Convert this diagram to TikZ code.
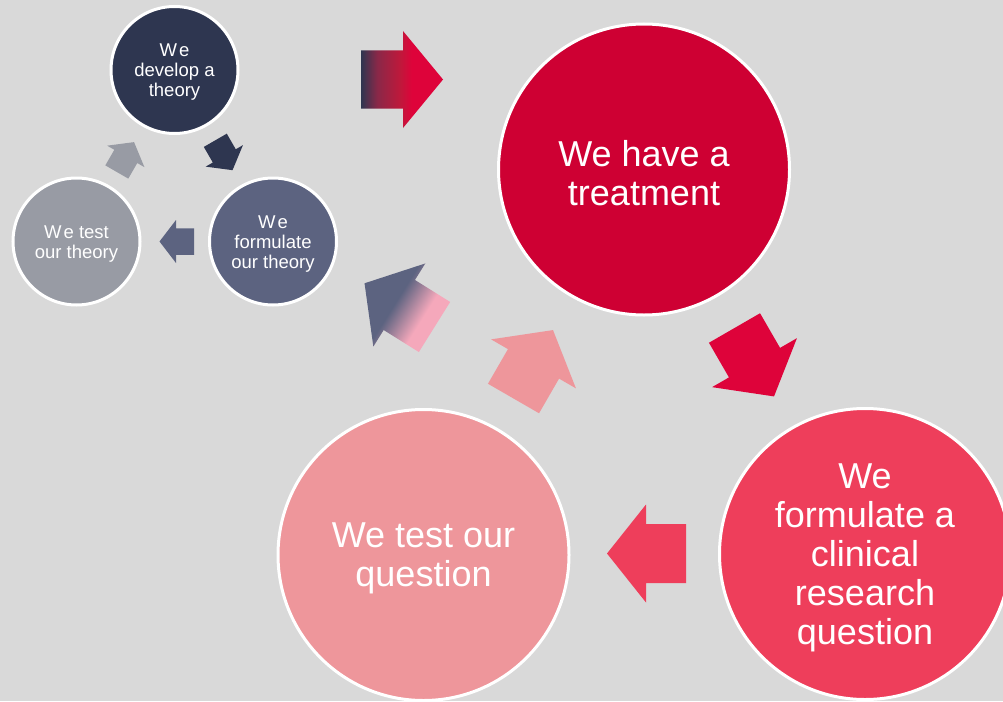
\documentclass[tikz,border=0pt]{standalone}
\usepackage{fontspec}
\setmainfont{Liberation Sans}
\definecolor{bgc}{HTML}{D9D9D9}
\definecolor{navy}{HTML}{2E3650}
\definecolor{slate}{HTML}{5C6380}
\definecolor{greyblue}{HTML}{989BA4}
\definecolor{crimson}{HTML}{CE0033}
\definecolor{brightred}{HTML}{DE033A}
\definecolor{rose}{HTML}{EE3E5B}
\definecolor{salmon}{HTML}{EE969B}
\definecolor{softpink}{HTML}{F5A8BB}
\definecolor{maroonmix}{HTML}{8A2848}
\definecolor{redmix}{HTML}{C0183B}
% gradient of the top arrow: navy tail into a red head
\pgfdeclarehorizontalshading{navytored}{100bp}{color(0bp)=(navy); color(25bp)=(navy); color(35bp)=(maroonmix); color(49bp)=(redmix); color(56bp)=(brightred); color(100bp)=(brightred)}
% gradient of the return arrow: pink tail into a slate head
\pgfdeclarehorizontalshading{pinktoslate}{100bp}{color(0bp)=(softpink); color(25bp)=(softpink); color(34bp)=(softpink); color(53bp)=(slate); color(100bp)=(slate)}
\tikzset{
  bubble/.style={circle, draw=white, line width=3pt, inner sep=0pt},
  bigbubble/.style={bubble, minimum size=291pt},
  smallbubble/.style={bubble, minimum size=127pt},
  bubbletext/.style={text=white, align=center, inner sep=0pt},
  bigtext/.style={bubbletext, font=\fontsize{36}{39}\selectfont, yshift=-3.5pt},
  smalltext/.style={bubbletext, font=\fontsize{18.5}{20}\selectfont, yshift=-2.5pt},
}
% block arrow with its tail centre at the origin, pointing along +x
% #1 body length, #2 body width, #3 head width, #4 head length
\newcommand{\blockshape}[4]{(0,-#2/2) -- (#1,-#2/2) -- (#1,-#3/2) -- (#1+#4,0) -- (#1,#3/2) -- (#1,#2/2) -- (0,#2/2) -- cycle}
\newcommand{\bigshape}{\blockshape{40}{59}{98}{39}}
\newcommand{\smallshape}{\blockshape{18}{26.5}{43}{16.5}}
\begin{document}
\begin{tikzpicture}[x=1pt,y=1pt]
\useasboundingbox (0,0) rectangle (1003,-701);
\clip (0,0) rectangle (1003,-701);
\fill[bgc] (0,0) rectangle (1003,-701);

% small theory cycle
\node[smallbubble, fill=navy] (develop) at (174.5,-70) {};
\node[smallbubble, fill=slate] (formtheory) at (273,-241.5) {};
\node[smallbubble, fill=greyblue] (testtheory) at (76.5,-241.5) {};
\node[smalltext] (develop-t) at (develop) {W\kern2pt e\\develop a\\theory};
\node[smalltext] (formtheory-t) at (formtheory) {W\kern2pt e\\formulate\\our theory};
\node[smalltext] (testtheory-t) at (testtheory) {W\kern2pt e test\\our theory};

% large question cycle
\node[bigbubble, fill=crimson] (treatment) at (644,-169.5) {};
\node[bigbubble, fill=rose] (clinical) at (865,-554) {};
\node[bigbubble, fill=salmon] (question) at (423.5,-555) {};
\node[bigtext] (treatment-t) at (treatment) {We have a\\treatment};
\node[bigtext] (clinical-t) at (clinical) {We\\formulate a\\clinical\\research\\question};
\node[bigtext] (question-t) at (question) {We test our\\question};

% arrows of the small cycle
\begin{scope}[transform canvas={shift={(215.3,-140.3)}, rotate=-60}]
  \fill[navy] \smallshape;
\end{scope}
\begin{scope}[transform canvas={shift={(194,-241.5)}, rotate=180}]
  \fill[slate] \smallshape;
\end{scope}
\begin{scope}[transform canvas={shift={(116.8,-172)}, rotate=60}]
  \fill[greyblue] \smallshape;
\end{scope}

% arrows of the large cycle
\begin{scope}[transform canvas={shift={(361,-79.5)}}]
  \shade[shading=navytored] \blockshape{42}{58}{97}{40};
\end{scope}
\begin{scope}[transform canvas={shift={(734.5,-328)}, rotate=-60}]
  \fill[brightred] \bigshape;
\end{scope}
\begin{scope}[transform canvas={shift={(686,-553.5)}, rotate=180}]
  \fill[rose] \bigshape;
\end{scope}
\begin{scope}[transform canvas={shift={(513.5,-398.5)}, rotate=60}]
  \fill[salmon] \bigshape;
\end{scope}
\begin{scope}[transform canvas={shift={(434.5,-327)}, rotate=148}]
  \shade[shading=pinktoslate] \blockshape{41.5}{59}{98}{41};
\end{scope}
\end{tikzpicture}
\end{document}
